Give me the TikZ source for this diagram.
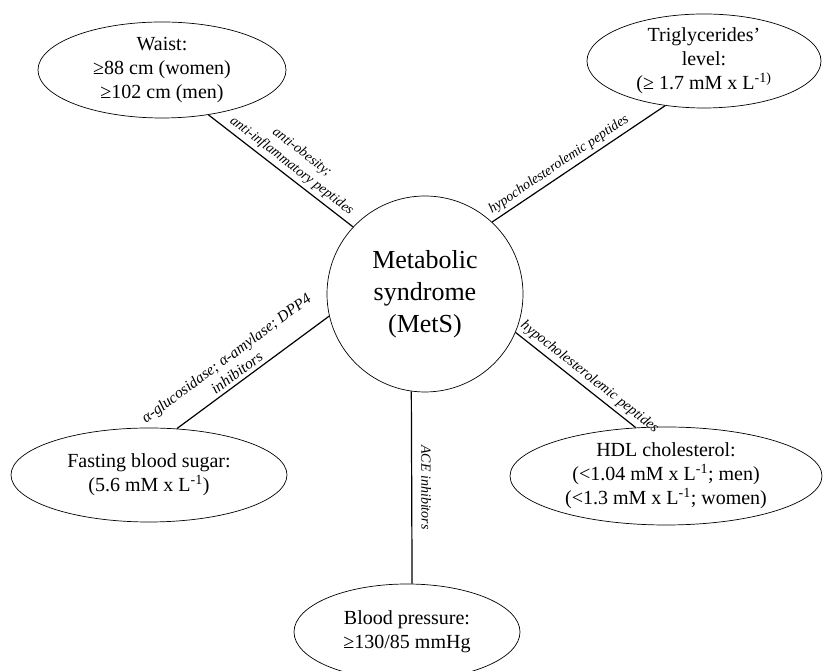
\documentclass[tikz,border=0pt]{standalone}
\usepackage{fontspec}
\setmainfont{Liberation Serif}
\usetikzlibrary{shapes.geometric}

\begin{document}
\begin{tikzpicture}[x=1pt,y=1pt,
    cond/.style={ellipse, draw, line width=0.7pt, align=center, inner sep=0pt,
        font=\fontsize{20}{24}\selectfont},
    hub/.style={circle, draw, line width=0.7pt, align=center, inner sep=0pt,
        minimum size=196pt, font=\fontsize{26}{32}\selectfont},
    link/.style={line width=1.2pt},
    lbl/.style={sloped, above, inner sep=3.5pt, align=center,
        font=\itshape\fontsize{14}{17}\selectfont}]

    % Fix the page size
    \useasboundingbox (0,0) rectangle (823,671);

    % Central node
    \node[hub] (mets) at (425,377) {Metabolic\\syndrome\\(MetS)};

    % Criteria round it
    \node[cond, minimum width=248pt, minimum height=96pt] (waist) at (162,601)
        {Waist:\\≥88 cm (women)\\≥102 cm (men)};
    \node[cond, minimum width=234pt, minimum height=94pt] (trig) at (704,610)
        {Triglycerides'\\level:\\(≥ 1.7 mM x L\textsuperscript{-1)}};
    \node[cond, minimum width=312pt, minimum height=98pt] (hdl) at (666,195)
        {HDL cholesterol:\\(<1.04 mM x L\textsuperscript{-1}; men)\\(<1.3 mM x L\textsuperscript{-1}; women)};
    \node[cond, minimum width=276pt, minimum height=94pt] (fast) at (149,196)
        {Fasting blood sugar:\\(5.6 mM x L\textsuperscript{-1})};
    \node[cond, minimum width=226pt, minimum height=96pt] (bp) at (407,39)
        {Blood pressure:\\≥130/85  mmHg};

    % Connectors with the peptide labels
    \draw[link] (waist.-44) -- (mets.137)
        node[lbl, pos=0.53] {anti-obesity;\\anti-inflammatory peptides};
    \draw[link] (mets.47) -- (trig.229)
        node[lbl, pos=0.42] {hypocholesterolemic peptides};
    \draw[link] (mets.-23) -- (hdl.122)
        node[lbl, pos=0.56, font=\itshape\fontsize{14.5}{17}\selectfont] {hypocholesterolemic peptides};
    \draw[link] (fast.59) -- (mets.193)
        node[lbl, pos=0.43, font=\itshape\fontsize{15.5}{18}\selectfont] {α-glucosidase; α-amylase; DPP4\\inhibitors};
    \draw[link] (mets.262) -- (bp.84)
        node[lbl, pos=0.5, inner sep=9pt] {ACE inhibitors};

\end{tikzpicture}
\end{document}
